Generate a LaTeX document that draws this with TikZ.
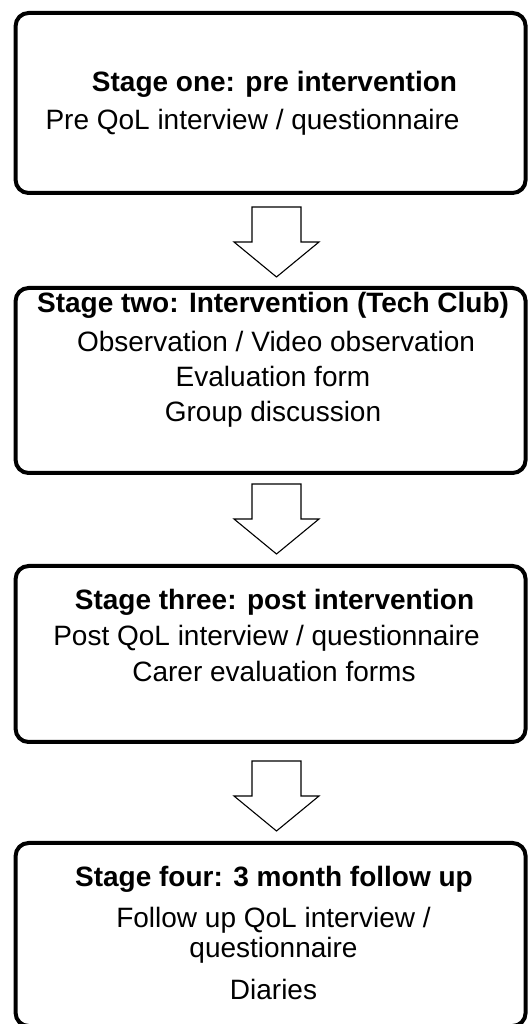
\documentclass[tikz,border=0pt]{standalone}
\usepackage{fontspec}
\setmainfont{Liberation Sans}
\tikzset{
  stagebox/.style={draw=black, line width=4pt, rounded corners=13pt, fill=white, inner sep=0pt},
  title/.style={anchor=base, inner sep=0pt, font=\fontsize{28}{32}\selectfont\bfseries},
  item/.style={anchor=base, inner sep=0pt, font=\fontsize{28}{32}\selectfont},
  hollowdown/.pic={
    \draw[line width=1.1pt, fill=white, line join=miter]
      (-24.5,70) -- (24.5,70) -- (24.5,35) -- (42.5,35) -- (0,0)
      -- (-42.5,35) -- (-24.5,35) -- cycle;
  }
}
\begin{document}
\begin{tikzpicture}[x=1pt,y=1pt]
\useasboundingbox (0,0) rectangle (528,1024);
\begin{scope}
\clip (0,0) rectangle (528,1024);

% stage boxes
\node[stagebox, minimum width=510, minimum height=180] (s1) at (270.6, 921) {};
\node[stagebox, minimum width=510, minimum height=185] (s2) at (270.6, 643.5) {};
\node[stagebox, minimum width=510, minimum height=176] (s3) at (270.6, 370) {};
\node[stagebox, minimum width=510, minimum height=183] (s4) at (270.6, 89.5) {};

% block arrows between the stages
\pic at (276.5, 747) {hollowdown};
\pic at (276.5, 470) {hollowdown};
\pic at (276.5, 193) {hollowdown};

% stage one
\node[title] (t1) at (274.5, 932) {Stage one: pre intervention};
\node[item] (t1a) at (252.5, 894) {Pre QoL interview / questionnaire};

% stage two
\node[title] (t2) at (273, 711) {Stage two: Intervention (Tech Club)};
\node[item] (t2a) at (276, 672) {Observation / Video observation};
\node[item] (t2b) at (273, 637) {Evaluation form};
\node[item] (t2c) at (273, 602) {Group discussion};

% stage three
\node[title] (t3) at (274.5, 414) {Stage three: post intervention};
\node[item] (t3a) at (266.5, 378) {Post QoL interview / questionnaire};
\node[item] (t3b) at (274, 342) {Carer evaluation forms};

% stage four
\node[title] (t4) at (274, 137) {Stage four: 3 month follow up};
\node[item] (t4a) at (273.5, 96) {Follow up QoL interview /};
\node[item] (t4b) at (273.5, 66) {questionnaire};
\node[item] (t4c) at (273.5, 24) {Diaries};
\end{scope}
\end{tikzpicture}
\end{document}
